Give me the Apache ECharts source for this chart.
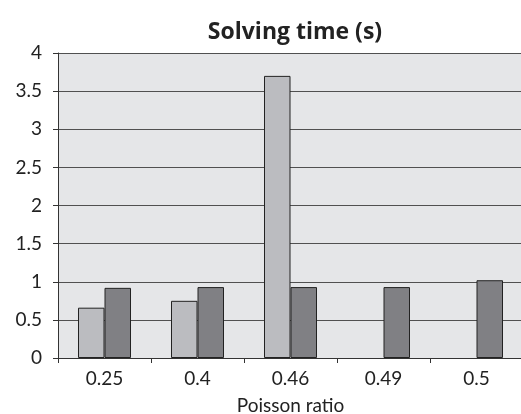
<!DOCTYPE html>
<html>
<head>
<meta charset="utf-8">
<style>
  html, body { margin: 0; padding: 0; background: #ffffff; }
  #chart { width: 521px; height: 414px; }
</style>
<script src="https://cdn.jsdelivr.net/npm/echarts@6/dist/echarts.min.js"></script>
</head>
<body>
<div id="chart"></div>
<script>
// Poisson ratio categories and solving times (seconds) for two solver runs
const categories = ['0.25', '0.4', '0.46', '0.49', '0.5'];
const seriesLight = [0.66, 0.75, 3.70, null, null];
const seriesDark = [0.92, 0.93, 0.93, 0.93, 1.02];
const yTicks = { min: 0, max: 4, interval: 0.5 };

const font = 'Lato, "Open Sans", sans-serif';
const titleFont = '"Open Sans", Lato, sans-serif';
const textColor = '#222222';

const chart = echarts.init(document.getElementById('chart'));
chart.setOption({
  animation: false,
  backgroundColor: '#ffffff',
  title: {
    text: 'Solving time (s)',
    left: 290,
    textAlign: 'center',
    top: 16,
    textStyle: { fontFamily: titleFont, fontSize: 23, fontWeight: 'bold', color: textColor }
  },
  grid: {
    left: 58, right: -2, top: 53, bottom: 56,
    outerBoundsMode: 'none',
    containLabel: false,
    show: true, backgroundColor: '#e5e6e8', borderWidth: 0
  },
  xAxis: {
    type: 'category',
    data: categories,
    boundaryGap: true,
    name: 'Poisson ratio',
    nameLocation: 'middle',
    nameGap: 38,
    nameTextStyle: { fontFamily: font, fontSize: 19, color: textColor },
    axisLine: { show: true, lineStyle: { color: '#333333', width: 1 } },
    axisTick: { show: true, length: 5, lineStyle: { color: '#333333' } },
    axisLabel: { fontFamily: font, fontSize: 19, color: textColor, margin: 11 },
    splitLine: { show: false }
  },
  yAxis: {
    type: 'value',
    min: yTicks.min, max: yTicks.max, interval: yTicks.interval,
    axisLine: { show: true, lineStyle: { color: '#333333', width: 1 } },
    axisTick: { show: true, length: 5, lineStyle: { color: '#333333' } },
    axisLabel: { fontFamily: font, fontSize: 19, color: textColor, margin: 16 },
    splitLine: { show: true, lineStyle: { color: '#505050', width: 1.2 } }
  },
  series: [
    {
      type: 'bar',
      data: seriesLight,
      barWidth: 26.5,
      barGap: '0%',
      itemStyle: { color: '#bbbcc0', borderColor: '#222222', borderWidth: 1 }
    },
    {
      type: 'bar',
      data: seriesDark,
      barWidth: 26.5,
      barGap: '0%',
      itemStyle: { color: '#808084', borderColor: '#222222', borderWidth: 1 }
    }
  ]
});
</script>
</body>
</html>
